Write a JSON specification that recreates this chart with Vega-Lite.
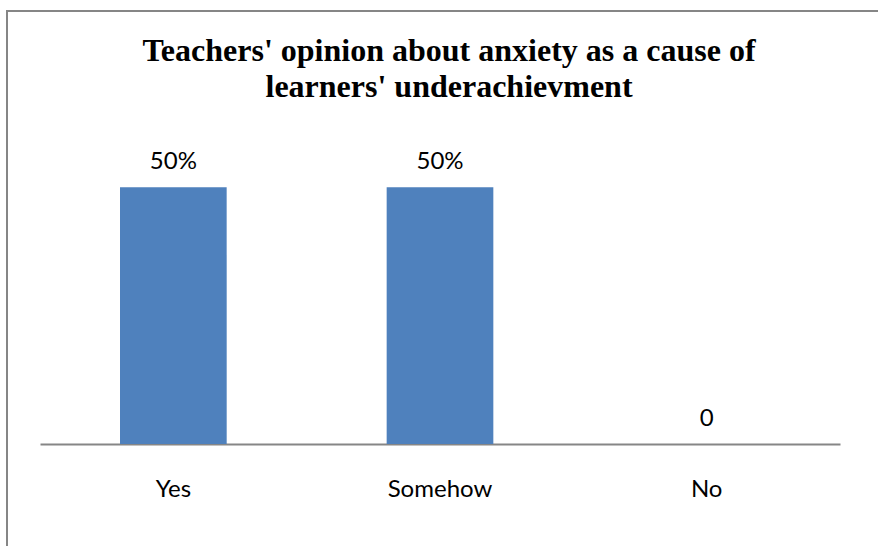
{
  "$schema": "https://vega.github.io/schema/vega-lite/v6.json",
  "autosize": "none",
  "padding": {"left": 7, "top": 11, "right": 0, "bottom": 0},
  "width": 880,
  "height": 545,
  "config": {
    "view": {"stroke": "#868686", "strokeWidth": 2},
    "font": "Lato"
  },
  "title": {
    "text": ["Teachers' opinion about anxiety as a cause of", "learners' underachievment"],
    "font": "Liberation Serif",
    "fontSize": 32,
    "fontWeight": "bold",
    "color": "#000000",
    "lineHeight": 36,
    "anchor": "middle",
    "baseline": "top",
    "dx": 2,
    "offset": -93
  },
  "data": {
    "values": [
      {"category": "Yes", "value": 0.5, "label": "50%"},
      {"category": "Somehow", "value": 0.5, "label": "50%"},
      {"category": "No", "value": 0, "label": "0"}
    ]
  },
  "encoding": {
    "x": {
      "field": "category",
      "type": "nominal",
      "sort": null,
      "title": null,
      "scale": {"range": [33, 833], "paddingInner": 0.6, "paddingOuter": 0.3},
      "axis": {
        "orient": "bottom",
        "offset": -112,
        "labelAngle": 0,
        "ticks": false,
        "tickSize": 0,
        "domainColor": "#868686",
        "domainWidth": 2,
        "labelFont": "Lato",
        "labelFontSize": 24,
        "labelColor": "#000000",
        "labelPadding": 33,
        "grid": false
      }
    },
    "y": {
      "field": "value",
      "type": "quantitative",
      "scale": {"domain": [0, 0.6], "range": [433, 125], "nice": false},
      "axis": null
    }
  },
  "layer": [
    {"mark": {"type": "bar", "color": "#4F81BD"}},
    {
      "mark": {"type": "text", "baseline": "bottom", "dy": -13, "font": "Lato", "fontSize": 24, "color": "#000000"},
      "encoding": {"text": {"field": "label"}}
    }
  ]
}
